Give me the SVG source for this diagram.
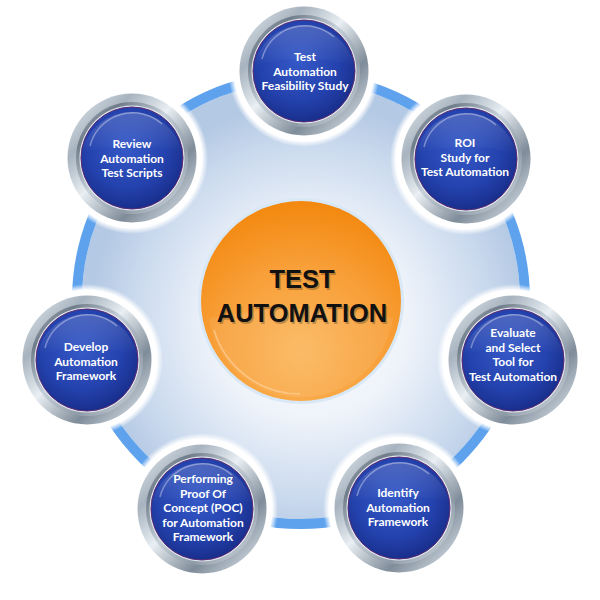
<svg xmlns="http://www.w3.org/2000/svg" width="600" height="600" viewBox="0 0 600 600">
  <defs>
    <radialGradient id="bg" cx="0.52" cy="0.55" r="0.5">
      <stop offset="0" stop-color="#ffffff"/>
      <stop offset="0.45" stop-color="#eef3fa"/>
      <stop offset="0.8" stop-color="#cbdaee"/>
      <stop offset="1" stop-color="#b4c9e4"/>
    </radialGradient>
    <radialGradient id="orange" cx="0.5" cy="0.75" r="0.75">
      <stop offset="0" stop-color="#fbb65a"/>
      <stop offset="0.55" stop-color="#f8a03a"/>
      <stop offset="1" stop-color="#f3880e"/>
    </radialGradient>
    <linearGradient id="silver" x1="0" y1="0" x2="1" y2="1">
      <stop offset="0" stop-color="#eef3f6"/>
      <stop offset="0.25" stop-color="#a7b3bf"/>
      <stop offset="0.45" stop-color="#e9eff3"/>
      <stop offset="0.7" stop-color="#7f8c99"/>
      <stop offset="0.9" stop-color="#c9d3dc"/>
      <stop offset="1" stop-color="#eef3f6"/>
    </linearGradient>
    <linearGradient id="silver2" x1="1" y1="1" x2="0" y2="0">
      <stop offset="0" stop-color="#dfe7ee"/>
      <stop offset="0.3" stop-color="#8e9aa6"/>
      <stop offset="0.55" stop-color="#c8d2db"/>
      <stop offset="0.8" stop-color="#6f7c89"/>
      <stop offset="1" stop-color="#b9c4ce"/>
    </linearGradient>
    <radialGradient id="blue" cx="0.45" cy="0.4" r="0.65">
      <stop offset="0" stop-color="#3559c8"/>
      <stop offset="0.6" stop-color="#2442ad"/>
      <stop offset="1" stop-color="#162a85"/>
    </radialGradient>
    <linearGradient id="gloss" x1="0" y1="0" x2="0" y2="1">
      <stop offset="0" stop-color="#ffffff" stop-opacity="0.18"/>
      <stop offset="1" stop-color="#ffffff" stop-opacity="0"/>
    </linearGradient>
    <radialGradient id="halo" cx="0.5" cy="0.5" r="0.5">
      <stop offset="0.92" stop-color="#ffffff"/>
      <stop offset="1" stop-color="#ffffff" stop-opacity="0"/>
    </radialGradient>
    <g id="button">
      <circle r="76" fill="url(#halo)"/>
      <circle r="64.5" fill="url(#silver)"/>
      <circle r="56" fill="url(#silver2)"/>
      <circle r="52.5" fill="#dfe6ee"/>
      <circle r="51" fill="url(#blue)" stroke="#5b2a72" stroke-width="1"/>
      <path d="M -42 -12 A 44 44 0 0 1 30 -34" fill="none" stroke="#ffffff" stroke-opacity="0.35" stroke-width="1.5"/>
      <path d="M -50 -5 A 51 51 0 0 1 50 -5 Q 0 -20 -50 -5 Z" fill="url(#gloss)"/>
    </g>
  </defs>
  <style>
    .lbl { font-family: Lato, "Open Sans", sans-serif; font-weight: bold; font-size: 12px; fill: #ffffff; text-anchor: middle; }
    .big { font-family: "Liberation Sans", Arial, sans-serif; font-weight: bold; font-size: 25.5px; fill: #111111; text-anchor: middle; }
  </style>
  <rect width="600" height="600" fill="#ffffff"/>
  <circle cx="301" cy="300" r="219" fill="url(#bg)"/>
  <g id="connectors">
    <circle cx="301" cy="300" r="224" fill="none" stroke="#5ea2ee" stroke-width="10"/>
  </g>
  <g id="center">
    <circle cx="301" cy="301" r="103" fill="#d8e8f6"/>
    <circle cx="301" cy="301" r="100" fill="url(#orange)"/>
    <path d="M 209 318 Q 301 300 393 318 A 93 93 0 0 1 209 318 Z" fill="#ffffff" fill-opacity="0.08"/>
    <path d="M 214 330 A 90 90 0 0 0 300 394" fill="none" stroke="#ffd9a8" stroke-opacity="0.6" stroke-width="1.5"/>
    <text class="big" x="302" y="288" fill-opacity="0.25" fill="#7a3d00" transform="translate(1.5,1.5)">TEST</text>
    <text class="big" x="302" y="322" fill-opacity="0.25" fill="#7a3d00" transform="translate(1.5,1.5)">AUTOMATION</text>
    <text class="big" x="302" y="288">TEST</text>
    <text class="big" x="302" y="322">AUTOMATION</text>
  </g>
  <g id="n1">
    <use href="#button" x="304" y="71"/>
    <text class="lbl" x="305" y="61">Test</text>
    <text class="lbl" x="305" y="75.5">Automation</text>
    <text class="lbl" x="305" y="90">Feasibility Study</text>
  </g>
  <g id="n2">
    <use href="#button" x="466" y="159"/>
    <text class="lbl" x="465" y="147">ROI</text>
    <text class="lbl" x="465" y="161.5">Study for</text>
    <text class="lbl" x="465" y="176">Test Automation</text>
  </g>
  <g id="n3">
    <use href="#button" x="513" y="360"/>
    <text class="lbl" x="513" y="337">Evaluate</text>
    <text class="lbl" x="513" y="351.5">and Select</text>
    <text class="lbl" x="513" y="366">Tool for</text>
    <text class="lbl" x="513" y="380.5">Test Automation</text>
  </g>
  <g id="n4">
    <use href="#button" x="399" y="508"/>
    <text class="lbl" x="398" y="497">Identify</text>
    <text class="lbl" x="398" y="511.5">Automation</text>
    <text class="lbl" x="398" y="526">Framework</text>
  </g>
  <g id="n5">
    <use href="#button" x="202" y="509"/>
    <text class="lbl" x="203" y="483">Performing</text>
    <text class="lbl" x="203" y="497.5">Proof Of</text>
    <text class="lbl" x="203" y="512">Concept (POC)</text>
    <text class="lbl" x="203" y="526.5">for Automation</text>
    <text class="lbl" x="203" y="541">Framework</text>
  </g>
  <g id="n6">
    <use href="#button" x="87" y="360"/>
    <text class="lbl" x="86" y="351">Develop</text>
    <text class="lbl" x="86" y="365.5">Automation</text>
    <text class="lbl" x="86" y="380">Framework</text>
  </g>
  <g id="n7">
    <use href="#button" x="132" y="158"/>
    <text class="lbl" x="132" y="148">Review</text>
    <text class="lbl" x="132" y="162.5">Automation</text>
    <text class="lbl" x="132" y="177">Test Scripts</text>
  </g>
</svg>
